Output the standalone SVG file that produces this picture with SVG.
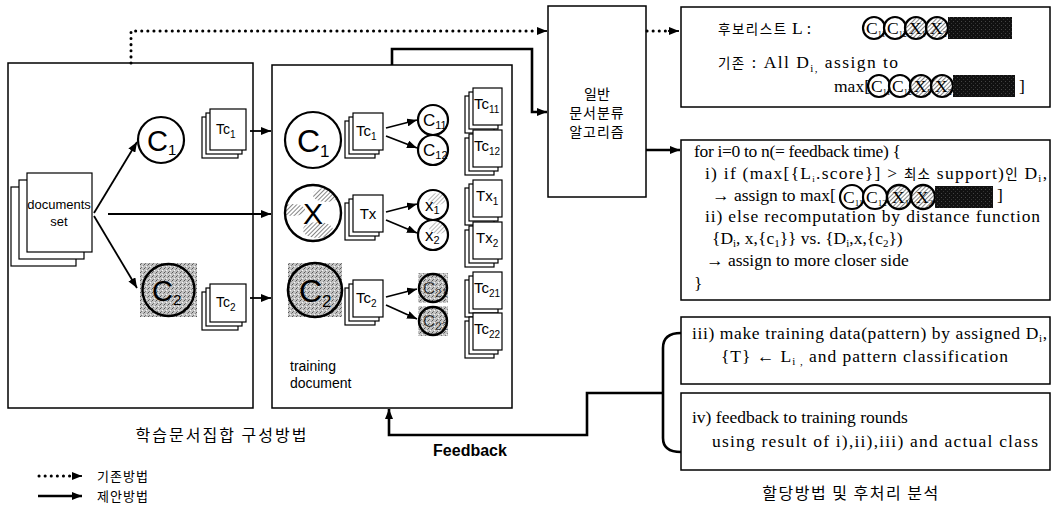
<svg xmlns="http://www.w3.org/2000/svg" width="1054" height="509" viewBox="0 0 1054 509">
<style>
.box{fill:#fff;stroke:#000;stroke-width:1.5}
.pg{fill:#fff;stroke:#000;stroke-width:1.2}
.cir{fill:#fff;stroke:#000;stroke-width:2.2}
.sans{font-family:"Liberation Sans",Arial,"Noto Sans CJK KR",sans-serif;fill:#000}
.ser{font-family:"Liberation Serif","Times New Roman","Noto Sans CJK KR",serif;fill:#000;font-size:17.5px}
.kr{font-family:"Noto Sans CJK KR","Liberation Sans",sans-serif;fill:#000}
.krs{font-family:"Noto Sans CJK KR",sans-serif;font-size:13.5px}
.ln{fill:none;stroke:#000;stroke-width:1.8}
.thick{fill:none;stroke:#000;stroke-width:2.6}
.dot{fill:none;stroke:#000;stroke-width:3;stroke-dasharray:0.1 6;stroke-linecap:round}
</style>
<defs>
<marker id="ah" viewBox="0 0 10 8" refX="10" refY="4" markerWidth="10" markerHeight="8" markerUnits="userSpaceOnUse" orient="auto"><path d="M0,0 L10,4 L0,8 z" fill="#000"/></marker>
<pattern id="hatch" width="3" height="3" patternUnits="userSpaceOnUse" patternTransform="rotate(45)"><rect width="3" height="3" fill="#fff"/><line x1="0" y1="0" x2="0" y2="3" stroke="#444" stroke-width="1.3"/></pattern>
<pattern id="stip" width="4" height="4" patternUnits="userSpaceOnUse"><rect width="4" height="4" fill="#c4c4c4"/><rect x="0" y="0" width="1" height="1" fill="#555"/><rect x="2" y="2" width="1" height="1" fill="#f4f4f4"/><rect x="3" y="1" width="1" height="1" fill="#888"/><rect x="1" y="3" width="1" height="1" fill="#777"/></pattern>
<pattern id="dark" width="4" height="4" patternUnits="userSpaceOnUse"><rect width="4" height="4" fill="#111"/><rect x="1" y="1" width="1" height="1" fill="#444"/><rect x="3" y="3" width="1" height="1" fill="#333"/></pattern>
<clipPath id="cx"><circle cx="313" cy="213" r="28"/></clipPath>
</defs>

<!-- containers -->
<g id="box-set">
<rect class="box" x="8" y="63" width="245" height="345"/>
</g>
<g id="box-training">
<rect class="box" x="272" y="65" width="240" height="343"/>
<text class="sans" x="290" y="371" font-size="14">training</text>
<text class="sans" x="290" y="388" font-size="14">document</text>
</g>

<!-- documents set -->
<g id="documents-set">
<rect class="pg" x="11" y="187" width="65" height="79"/>
<rect class="pg" x="19" y="180" width="65" height="79"/>
<rect class="pg" x="27" y="173" width="65" height="79"/>
<text class="sans" x="59" y="209" font-size="13" text-anchor="middle">documents</text>
<text class="sans" x="59" y="226" font-size="13" text-anchor="middle">set</text>
</g>

<g id="c1-left">
<circle class="cir" cx="161" cy="140" r="23"/>
<text class="sans" x="147" y="151" font-size="29">C<tspan font-size="15" dy="4">1</tspan></text>
</g>
<g id="c2-left">
<rect x="140" y="263" width="57" height="54" fill="url(#stip)"/>
<circle cx="168.5" cy="290" r="26" fill="url(#stip)" stroke="#000" stroke-width="2.4"/>
<text class="sans" x="152" y="301" font-size="29">C<tspan font-size="15" dy="4">2</tspan></text>
</g>
<g id="tc1-left">
<rect class="pg" x="202" y="117" width="36" height="41"/>
<rect class="pg" x="206" y="113" width="36" height="41"/>
<rect class="pg" x="210" y="109" width="36" height="41"/>
<text class="sans" x="216" y="134" font-size="14">Tc<tspan font-size="10" dy="4">1</tspan></text>
</g>
<g id="tc2-left">
<rect class="pg" x="202" y="292" width="36" height="38"/>
<rect class="pg" x="206" y="288" width="36" height="38"/>
<rect class="pg" x="210" y="284" width="36" height="38"/>
<text class="sans" x="216" y="307" font-size="14">Tc<tspan font-size="10" dy="4">2</tspan></text>
</g>

<!-- training document box contents -->
<g id="c1-mid">
<circle class="cir" cx="313" cy="140" r="28"/>
<text class="sans" x="297" y="152" font-size="32">C<tspan font-size="17" dy="5">1</tspan></text>
</g>
<g id="x-mid">
<circle cx="313" cy="213" r="28" fill="#fff"/>
<g clip-path="url(#cx)">
<ellipse cx="326" cy="195" rx="13" ry="7" fill="url(#hatch)"/>
<ellipse cx="293" cy="210" rx="12" ry="6" fill="url(#hatch)"/>
<ellipse cx="318" cy="230" rx="15" ry="8" fill="url(#hatch)"/>
</g>
<circle cx="313" cy="213" r="28" fill="none" stroke="#000" stroke-width="2.4"/>
<text class="sans" x="313" y="224" font-size="30" text-anchor="middle">X</text>
</g>
<g id="c2-mid">
<rect x="288" y="263" width="54" height="54" fill="url(#stip)"/>
<circle cx="315" cy="290" r="27" fill="url(#stip)" stroke="#000" stroke-width="2.6"/>
<text class="sans" x="299" y="302" font-size="32">C<tspan font-size="17" dy="5">2</tspan></text>
</g>
<g id="tc1-mid">
<rect class="pg" x="345" y="121" width="30" height="37"/>
<rect class="pg" x="349" y="117" width="30" height="37"/>
<rect class="pg" x="353" y="113" width="30" height="37"/>
<text class="sans" x="356" y="136" font-size="15">Tc<tspan font-size="10" dy="4">1</tspan></text>
</g>
<g id="tx-mid">
<rect class="pg" x="345" y="203" width="30" height="37"/>
<rect class="pg" x="349" y="199" width="30" height="37"/>
<rect class="pg" x="353" y="195" width="30" height="37"/>
<text class="sans" x="368" y="219" font-size="15" text-anchor="middle">Tx</text>
</g>
<g id="tc2-mid">
<rect class="pg" x="345" y="288" width="30" height="37"/>
<rect class="pg" x="349" y="284" width="30" height="37"/>
<rect class="pg" x="353" y="280" width="30" height="37"/>
<text class="sans" x="356" y="303" font-size="15">Tc<tspan font-size="10" dy="4">2</tspan></text>
</g>

<g id="c11">
<circle class="cir" cx="433" cy="120" r="15"/>
<text class="sans" x="423" y="126" font-size="17">C<tspan font-size="11" dy="3">11</tspan></text>
</g>
<g id="c12">
<circle class="cir" cx="433" cy="150" r="15"/>
<text class="sans" x="423" y="156" font-size="17">C<tspan font-size="11" dy="3">12</tspan></text>
</g>
<g id="x1">
<circle cx="433" cy="205" r="15" fill="#fff"/>
<ellipse cx="437" cy="199" rx="9" ry="6" fill="url(#hatch)" opacity="0.6"/>
<circle cx="433" cy="205" r="15" fill="none" stroke="#000" stroke-width="2.2"/>
<text class="sans" x="425" y="211" font-size="17">x<tspan font-size="11" dy="3">1</tspan></text>
</g>
<g id="x2">
<circle cx="433" cy="235" r="15" fill="#fff"/>
<ellipse cx="438" cy="228" rx="9" ry="6" fill="url(#hatch)" opacity="0.6"/>
<circle cx="433" cy="235" r="15" fill="none" stroke="#000" stroke-width="2.2"/>
<text class="sans" x="425" y="241" font-size="17">x<tspan font-size="11" dy="3">2</tspan></text>
</g>
<g id="c21">
<rect x="418" y="273" width="30" height="30" fill="url(#stip)"/>
<circle cx="433" cy="288" r="14" fill="url(#stip)" stroke="#000" stroke-width="2.4"/>
<text class="sans" x="423" y="294" font-size="17" fill-opacity="0.7">C<tspan font-size="11" dy="3">21</tspan></text>
</g>
<g id="c22">
<rect x="418" y="306" width="30" height="30" fill="url(#stip)"/>
<circle cx="433" cy="321" r="14" fill="url(#stip)" stroke="#000" stroke-width="2.4"/>
<text class="sans" x="423" y="327" font-size="17" fill-opacity="0.7">C<tspan font-size="11" dy="3">22</tspan></text>
</g>

<g id="tc11">
<rect class="pg" x="465" y="96" width="29" height="37"/>
<rect class="pg" x="469" y="92" width="29" height="37"/>
<rect class="pg" x="473" y="88" width="29" height="37"/>
<text class="sans" x="474" y="109" font-size="15">Tc<tspan font-size="10" dy="4">11</tspan></text>
</g>
<g id="tc12">
<rect class="pg" x="465" y="138" width="29" height="37"/>
<rect class="pg" x="469" y="134" width="29" height="37"/>
<rect class="pg" x="473" y="130" width="29" height="37"/>
<text class="sans" x="474" y="151" font-size="15">Tc<tspan font-size="10" dy="4">12</tspan></text>
</g>
<g id="tx1">
<rect class="pg" x="465" y="188" width="29" height="37"/>
<rect class="pg" x="469" y="184" width="29" height="37"/>
<rect class="pg" x="473" y="180" width="29" height="37"/>
<text class="sans" x="476" y="201" font-size="15">Tx<tspan font-size="10" dy="4">1</tspan></text>
</g>
<g id="tx2">
<rect class="pg" x="465" y="230" width="29" height="37"/>
<rect class="pg" x="469" y="226" width="29" height="37"/>
<rect class="pg" x="473" y="222" width="29" height="37"/>
<text class="sans" x="476" y="243" font-size="15">Tx<tspan font-size="10" dy="4">2</tspan></text>
</g>
<g id="tc21">
<rect class="pg" x="465" y="280" width="29" height="37"/>
<rect class="pg" x="469" y="276" width="29" height="37"/>
<rect class="pg" x="473" y="272" width="29" height="37"/>
<text class="sans" x="474" y="293" font-size="15">Tc<tspan font-size="10" dy="4">21</tspan></text>
</g>
<g id="tc22">
<rect class="pg" x="465" y="321" width="29" height="37"/>
<rect class="pg" x="469" y="317" width="29" height="37"/>
<rect class="pg" x="473" y="313" width="29" height="37"/>
<text class="sans" x="474" y="334" font-size="15">Tc<tspan font-size="10" dy="4">22</tspan></text>
</g>

<!-- algorithm -->
<g id="algorithm">
<rect class="box" x="548" y="6" width="98" height="191"/>
<text class="kr" x="597" y="99" font-size="14" text-anchor="middle">일반</text>
<text class="kr" x="597" y="118" font-size="14" text-anchor="middle" letter-spacing="1">문서분류</text>
<text class="kr" x="597" y="137" font-size="14" text-anchor="middle" letter-spacing="1">알고리즘</text>
</g>

<!-- candidate list -->
<g id="candidate-list">
<rect class="box" x="681" y="7" width="369" height="100"/>
<text class="ser" x="718" y="34"><tspan class="krs" letter-spacing="1.5">후보리스트</tspan> L :</text>
<g>
<circle class="cir" cx="874" cy="28" r="11"/><text class="ser" x="866" y="34" font-size="14">C<tspan font-size="8" dy="3">11</tspan></text>
<circle class="cir" cx="895" cy="28" r="11"/><text class="ser" x="887" y="34" font-size="14">C<tspan font-size="8" dy="3">12</tspan></text>
<circle cx="916" cy="28" r="11" fill="url(#hatch)" stroke="#000" stroke-width="2.2"/><text class="ser" x="909" y="34" font-size="14">X<tspan font-size="8" dy="3">1</tspan></text>
<circle cx="937" cy="28" r="11" fill="url(#hatch)" stroke="#000" stroke-width="2.2"/><text class="ser" x="930" y="34" font-size="14">X<tspan font-size="8" dy="3">2</tspan></text>
<rect x="948" y="17" width="32" height="22" fill="url(#dark)"/>
<rect x="980" y="17" width="32" height="22" fill="url(#dark)"/>
</g>
<text class="ser" x="718" y="68" textLength="180"><tspan class="krs">기존</tspan> : All D<tspan font-size="11" dy="4">i,</tspan><tspan dy="-4"> assign to</tspan></text>
<text class="ser" x="834" y="92">max[</text>
<g>
<circle class="cir" cx="879" cy="86" r="11"/><text class="ser" x="871" y="92" font-size="14">C<tspan font-size="8" dy="3">11</tspan></text>
<circle class="cir" cx="900" cy="86" r="11"/><text class="ser" x="892" y="92" font-size="14">C<tspan font-size="8" dy="3">12</tspan></text>
<circle cx="921" cy="86" r="11" fill="url(#hatch)" stroke="#000" stroke-width="2.2"/><text class="ser" x="914" y="92" font-size="14">X<tspan font-size="8" dy="3">1</tspan></text>
<circle cx="942" cy="86" r="11" fill="url(#hatch)" stroke="#000" stroke-width="2.2"/><text class="ser" x="935" y="92" font-size="14">X<tspan font-size="8" dy="3">2</tspan></text>
<rect x="953" y="75" width="31" height="22" fill="url(#dark)"/>
<rect x="984" y="75" width="31" height="22" fill="url(#dark)"/>
</g>
<text class="ser" x="1019" y="92">]</text>
</g>

<!-- main loop -->
<g id="loop">
<rect class="box" x="681" y="140" width="369" height="160"/>
<text class="ser" x="694" y="157" textLength="207">for i=0 to n(= feedback time) {</text>
<text class="ser" x="705" y="179" textLength="342">i) if (max[{L<tspan font-size="9" dy="3">i</tspan><tspan dy="-3">.score}] &gt; </tspan><tspan class="krs">최소</tspan> support)<tspan class="krs">인</tspan>  D<tspan font-size="11" dy="3">i</tspan><tspan dy="-3">,</tspan></text>
<text class="ser" x="712" y="201">→ assign to max[</text>
<g>
<circle class="cir" cx="852" cy="197" r="12"/><text class="ser" x="843" y="203" font-size="15">C<tspan font-size="9" dy="3">11</tspan></text>
<circle class="cir" cx="875" cy="197" r="12"/><text class="ser" x="866" y="203" font-size="15">C<tspan font-size="9" dy="3">12</tspan></text>
<circle cx="899" cy="197" r="12" fill="url(#hatch)" stroke="#000" stroke-width="2.4"/><text class="ser" x="892" y="203" font-size="15">X<tspan font-size="9" dy="3">1</tspan></text>
<circle cx="923" cy="197" r="12" fill="url(#hatch)" stroke="#000" stroke-width="2.4"/><text class="ser" x="916" y="203" font-size="15">X<tspan font-size="9" dy="3">2</tspan></text>
<rect x="935" y="186" width="29" height="22" fill="url(#dark)"/>
<rect x="964" y="186" width="29" height="22" fill="url(#dark)"/>
</g>
<text class="ser" x="997" y="201">]</text>
<text class="ser" x="705" y="222" textLength="335">ii) else recomputation by distance function</text>
<text class="ser" x="712" y="244">{D<tspan font-size="11" dy="3">i</tspan><tspan dy="-3">, x,{c</tspan><tspan font-size="11" dy="3">1</tspan><tspan dy="-3">}}  vs. {D</tspan><tspan font-size="11" dy="3">i</tspan><tspan dy="-3">,x,{c</tspan><tspan font-size="11" dy="3">2</tspan><tspan dy="-3">})</tspan></text>
<text class="ser" x="706" y="266">→ assign to more closer side</text>
<text class="ser" x="694" y="289">}</text>
</g>

<g id="step-iii">
<rect class="box" x="681" y="317" width="369" height="67"/>
<text class="ser" x="692" y="339" textLength="355">iii) make training data(pattern) by assigned D<tspan font-size="11" dy="3">i</tspan><tspan dy="-3">,</tspan></text>
<text class="ser" x="721" y="362" textLength="287">{T} ← L<tspan font-size="11" dy="3">i ,</tspan><tspan dy="-3"> and pattern classification</tspan></text>
</g>
<g id="step-iv">
<rect class="box" x="681" y="393" width="369" height="77"/>
<text class="ser" x="692" y="423">iv) feedback to training rounds</text>
<text class="ser" x="712" y="447" textLength="326">using result of  i),ii),iii) and actual class</text>
</g>

<!-- captions -->
<g id="captions">
<text class="kr" x="222" y="441" font-size="16" text-anchor="middle" letter-spacing="2">학습문서집합 구성방법</text>
<text class="kr" x="851" y="499" font-size="16" text-anchor="middle" letter-spacing="1.5">할당방법 및 후처리 분석</text>
<text class="sans" x="470" y="456" font-size="16" font-weight="bold" text-anchor="middle">Feedback</text>
</g>

<g id="legend">
<path class="dot" d="M39,476 H72"/>
<path class="ln" d="M72,476 H82" marker-end="url(#ah)"/>
<text class="kr" x="97" y="481" font-size="13" letter-spacing="1">기존방법</text>
<path class="thick" d="M38,496 H82" marker-end="url(#ah)"/>
<text class="kr" x="97" y="501" font-size="13" letter-spacing="1">제안방법</text>
</g>

<!-- connectors -->
<g id="connectors">
<path class="dot" d="M131,63 V31 H538"/>
<path class="ln" d="M538,31 H547" marker-end="url(#ah)"/>
<path class="dot" d="M647,31 H668"/>
<path class="ln" d="M668,31 H679" marker-end="url(#ah)"/>
<path class="thick" d="M392,65 V49 H532 V112 H547" marker-end="url(#ah)"/>
<path class="thick" d="M646,150 H680" marker-end="url(#ah)"/>
<path class="ln" d="M94,213 L137,142" marker-end="url(#ah)"/>
<path class="ln" d="M94,216 L137,288" marker-end="url(#ah)"/>
<path class="ln" d="M108,214 H271" marker-end="url(#ah)"/>
<path class="ln" d="M250,131 H271" marker-end="url(#ah)"/>
<path class="ln" d="M250,298 H271" marker-end="url(#ah)"/>
<path class="ln" d="M386,128 L417,120" marker-end="url(#ah)"/>
<path class="ln" d="M386,136 L417,148" marker-end="url(#ah)"/>
<path class="ln" d="M386,212 L417,204" marker-end="url(#ah)"/>
<path class="ln" d="M386,220 L417,233" marker-end="url(#ah)"/>
<path class="ln" d="M386,297 L417,289" marker-end="url(#ah)"/>
<path class="ln" d="M386,305 L417,319" marker-end="url(#ah)"/>
<path class="thick" d="M681,333 Q663,333 663,348 V438 Q663,452 681,452"/>
<path class="thick" d="M663,393 H587 V435 H389 V409" marker-end="url(#ah)"/>
</g>
</svg>
